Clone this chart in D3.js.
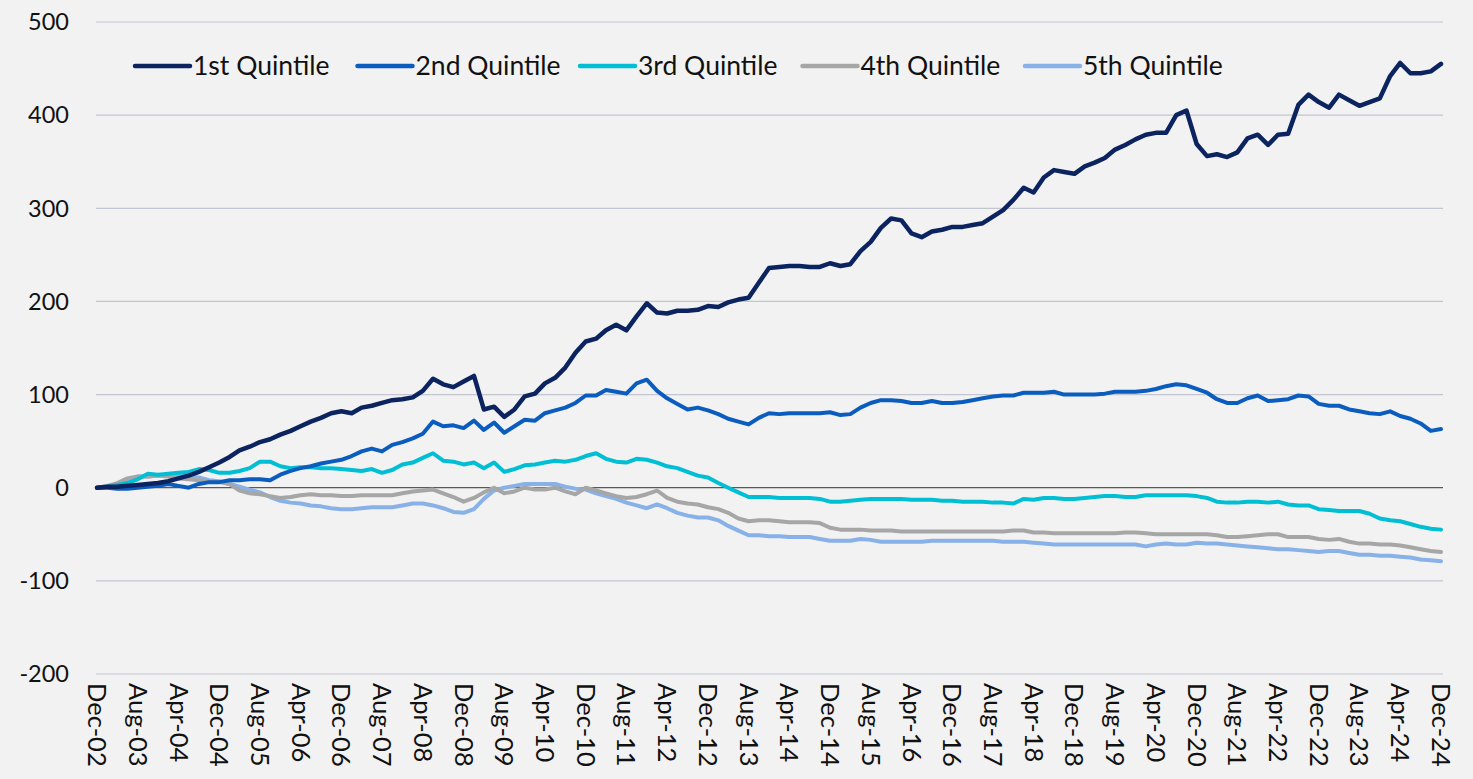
<!DOCTYPE html>
<html>
<head>
<meta charset="utf-8">
<script src="https://cdn.jsdelivr.net/npm/d3@7"></script>
<style>
  html, body { margin: 0; padding: 0; background: #f2f2f2; }
  svg { display: block; font-family: Lato, "Open Sans", sans-serif; }
</style>
</head>
<body>
<div id="chart"></div>
<script>
// Cumulative performance by quintile, sampled every 2 months Dec-02 .. Dec-24
const seriesNames = ["1st Quintile", "2nd Quintile", "3rd Quintile", "4th Quintile", "5th Quintile"];
const seriesColors = ["#0b2460", "#0a5cbf", "#00bfd4", "#a6a6a6", "#88b1e8"];

const q1 = [0,1,1,2,3,4,5,7,10,13,17,22,27,33,40,44,49,52,57,61,66,71,75,80,82,80,86,88,91,94,95,97,104,117,111,108,114,120,84,87,76,84,98,101,112,118,129,145,157,160,169,175,169,184,198,188,187,190,190,191,195,194,199,202,204,220,236,237,238,238,237,237,241,238,240,254,264,279,289,287,273,269,275,277,280,280,282,284,291,298,309,322,317,333,341,339,337,345,349,354,363,368,374,379,381,381,400,405,369,356,358,355,360,375,379,368,379,380,411,422,414,408,422,416,410,414,418,442,456,445,445,447,455];
const q2 = [0,0,-1,-1,0,1,2,4,2,0,4,6,6,8,8,9,9,8,14,18,21,23,26,28,30,34,39,42,39,46,49,53,58,71,66,67,64,72,62,70,59,66,73,72,80,83,86,91,99,99,105,103,101,112,116,104,96,90,84,86,83,79,74,71,68,75,80,79,80,80,80,80,81,78,79,86,91,94,94,93,91,91,93,91,91,92,94,96,98,99,99,102,102,102,103,100,100,100,100,101,103,103,103,104,106,109,111,110,106,102,95,91,91,96,99,93,94,95,99,98,90,88,88,84,82,80,79,82,77,74,69,61,63];
const q3 = [0,1,3,5,9,15,14,15,16,17,20,19,16,16,18,21,28,28,23,21,22,22,21,21,20,19,18,20,16,19,25,27,32,37,29,28,25,27,21,27,17,20,24,25,27,29,28,30,34,37,31,28,27,31,30,27,23,21,17,13,11,5,0,-5,-10,-10,-10,-11,-11,-11,-11,-12,-15,-15,-14,-13,-12,-12,-12,-12,-13,-13,-13,-14,-14,-15,-15,-15,-16,-16,-17,-12,-13,-11,-11,-12,-12,-11,-10,-9,-9,-10,-10,-8,-8,-8,-8,-8,-9,-11,-15,-16,-16,-15,-15,-16,-15,-18,-19,-19,-23,-24,-25,-25,-25,-28,-33,-35,-36,-39,-42,-44,-45];
const q4 = [0,2,5,10,12,12,13,12,10,9,8,7,6,4,-3,-6,-7,-9,-11,-10,-8,-7,-8,-8,-9,-9,-8,-8,-8,-8,-6,-4,-3,-2,-6,-10,-15,-11,-5,0,-6,-4,0,-2,-2,0,-4,-7,0,-3,-6,-9,-11,-10,-7,-3,-11,-15,-17,-18,-21,-23,-27,-33,-36,-35,-35,-36,-37,-37,-37,-38,-43,-45,-45,-45,-46,-46,-46,-47,-47,-47,-47,-47,-47,-47,-47,-47,-47,-47,-46,-46,-48,-48,-49,-49,-49,-49,-49,-49,-49,-48,-48,-49,-50,-50,-50,-50,-50,-50,-51,-53,-53,-52,-51,-50,-50,-53,-53,-53,-55,-56,-55,-58,-60,-60,-61,-61,-62,-64,-66,-68,-69];
const q5 = [0,1,4,8,12,12,13,13,14,12,11,8,7,4,1,-2,-5,-10,-14,-16,-17,-19,-20,-22,-23,-23,-22,-21,-21,-21,-19,-17,-17,-19,-22,-26,-27,-23,-12,-3,0,2,4,4,4,4,1,-1,-2,-6,-9,-12,-16,-19,-22,-18,-22,-27,-30,-32,-32,-35,-41,-46,-51,-51,-52,-52,-53,-53,-53,-55,-57,-57,-57,-55,-56,-58,-58,-58,-58,-58,-57,-57,-57,-57,-57,-57,-57,-58,-58,-58,-59,-60,-61,-61,-61,-61,-61,-61,-61,-61,-61,-63,-61,-60,-61,-61,-59,-60,-60,-61,-62,-63,-64,-65,-66,-66,-67,-68,-69,-68,-68,-70,-72,-72,-73,-73,-74,-75,-77,-78,-79];

const yTicks = [-200, -100, 0, 100, 200, 300, 400, 500];

const start = new Date(2002, 11, 1);
const end = new Date(2024, 11, 1);
const dates = d3.timeMonth.range(start, d3.timeMonth.offset(end, 1), 2);
const xTickDates = d3.timeMonth.range(start, d3.timeMonth.offset(end, 1), 8);

const width = 1473, height = 779;

const svg = d3.select("#chart").append("svg")
  .attr("width", width)
  .attr("height", height)
  .style("background", "#f2f2f2");

const x = d3.scaleTime().domain([start, end]).range([97, 1441]);
const y = d3.scaleLinear().domain([-200, 500]).range([674, 22]);

// gridlines
svg.append("g")
  .selectAll("line")
  .data(yTicks)
  .join("line")
  .attr("x1", 96)
  .attr("x2", 1443)
  .attr("y1", d => y(d))
  .attr("y2", d => y(d))
  .attr("stroke", d => d === 0 ? "#595959" : "#c3c6d1")
  .attr("stroke-width", d => d === 0 ? 1.3 : 1.2);

// y labels
svg.append("g")
  .selectAll("text")
  .data(yTicks)
  .join("text")
  .attr("x", 69)
  .attr("y", d => y(d))
  .attr("dy", "0.35em")
  .attr("text-anchor", "end")
  .style("font-size", "23.5px")
  .style("fill", "#111")
  .text(d => d);

// x labels, rotated
const fmt = d3.timeFormat("%b-%y");
svg.append("g")
  .selectAll("text")
  .data(xTickDates)
  .join("text")
  .attr("transform", d => `translate(${x(d)},683) rotate(90)`)
  .attr("dy", "0.35em")
  .attr("text-anchor", "start")
  .style("font-size", "25.5px")
  .style("fill", "#111")
  .text(d => fmt(d));

// lines (draw 5th first so 1st is on top)
const allSeries = [q1, q2, q3, q4, q5];
const line = d3.line()
  .x((d, i) => x(dates[i]))
  .y(d => y(d));

svg.append("g")
  .selectAll("path")
  .data(allSeries.map((v, i) => ({ v, i })).reverse())
  .join("path")
  .attr("d", d => line(d.v))
  .attr("fill", "none")
  .attr("stroke", d => seriesColors[d.i])
  .attr("stroke-width", d => d.i === 0 ? 4.5 : 4)
  .attr("stroke-linejoin", "round")
  .attr("stroke-linecap", "round");

// legend
const legend = svg.append("g")
  .selectAll("g")
  .data(seriesNames)
  .join("g")
  .attr("transform", (d, i) => `translate(${135 + i * 222.5},66)`);

legend.append("line")
  .attr("x1", 0)
  .attr("x2", 55)
  .attr("stroke", (d, i) => seriesColors[i])
  .attr("stroke-width", 4.5)
  .attr("stroke-linecap", "round");

legend.append("text")
  .attr("x", 58)
  .attr("dy", "0.35em")
  .style("font-size", "26.5px")
  .style("fill", "#111")
  .text(d => d);
</script>
</body>
</html>
